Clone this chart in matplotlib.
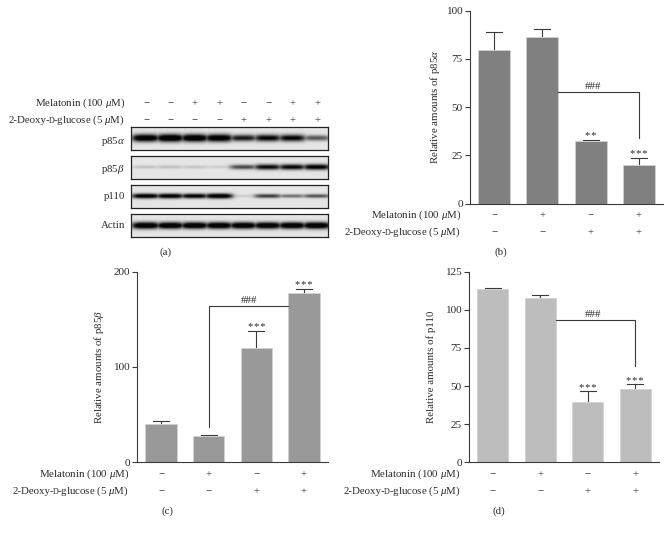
import numpy as np
import matplotlib
matplotlib.use("Agg")
import matplotlib.pyplot as plt

plt.rcParams['font.family'] = ['Liberation Serif', 'DejaVu Serif']
plt.rcParams['mathtext.fontset'] = 'custom'
plt.rcParams['mathtext.rm'] = 'Liberation Serif'
plt.rcParams['mathtext.it'] = 'Liberation Serif:italic'
plt.rcParams['mathtext.bf'] = 'Liberation Serif:bold'

W, H = 670, 533
FS = 7.85
TXT = '#2b2b2b'
LINE = '#3a3a3a'

# ---------- data ----------
mel_blot = ['−', '−', '+', '+', '−', '−', '+', '+']
dg_blot = ['−', '−', '−', '−', '+', '+', '+', '+']
blot_names = ['p85$\\alpha$', 'p85$\\beta$', 'p110', 'Actin']
p85a_bands = [0.95, 1.0, 0.98, 0.95, 0.72, 0.8, 0.8, 0.5]
p85b_bands = [0.13, 0.14, 0.12, 0.09, 0.55, 0.78, 0.8, 0.85]
p110_bands = [0.9, 0.9, 0.85, 0.95, 0.1, 0.6, 0.42, 0.52]
actin_bands = [1.0, 0.98, 0.98, 0.98, 0.98, 0.98, 0.98, 1.0]

melatonin = ['−', '+', '−', '+']
deoxy = ['−', '−', '+', '+']

b_vals = [79.4, 86.2, 32.3, 19.9]
b_tops = [89.1, 90.3, 33.0, 23.8]
b_sig = ['', '', '*\u200a*', '*\u200a*\u200a*']
b_ticks = [0, 25, 50, 75, 100]

c_vals = [39.9, 27.3, 119.6, 178.0]
c_tops = [43.4, 29.0, 137.8, 181.8]
c_sig = ['', '', '*\u200a*\u200a*', '*\u200a*\u200a*']
c_ticks = [0, 100, 200]

d_vals = [113.9, 107.7, 39.6, 48.3]
d_tops = [114.1, 109.5, 46.5, 51.1]
d_sig = ['', '', '*\u200a*\u200a*', '*\u200a*\u200a*']
d_ticks = [0, 25, 50, 75, 100, 125]

fig = plt.figure(figsize=(W / 100, H / 100), dpi=100, facecolor='white')


def fx(x):
    return x / W


def fy(y):
    return 1 - y / H


def px_axes(l, t, r, b, **kw):
    return fig.add_axes([fx(l), fy(b), (r - l) / W, (b - t) / H], **kw)


def deoxy_label(xr, y):
    """Right-aligned treatment label with a small-capital D."""
    r = fig.canvas.get_renderer()
    parts = [('-glucose (5 $\\mu$M)', FS, 0.0), ('D', FS * 0.74, -0.6), ('2-Deoxy-', FS, -0.6)]
    x = xr
    base = y + 3.0
    for s, size, gap in parts:
        t = fig.text(fx(x), fy(base), s, ha='right', va='baseline',
                     fontsize=size, color=TXT)
        x -= t.get_window_extent(r).width + gap - 0.8


def treatment_rows(xs_px, mel, dg, y1, y2, xr):
    fig.text(fx(xr), fy(y1 + 3.0), 'Melatonin (100 $\\mu$M)', ha='right',
             va='baseline', fontsize=FS, color=TXT)
    deoxy_label(xr, y2)
    for x, m, d in zip(xs_px, mel, dg):
        fig.text(fx(x), fy(y1), m, ha='center', va='center_baseline', fontsize=FS, color=TXT)
        fig.text(fx(x), fy(y2), d, ha='center', va='center_baseline', fontsize=FS, color=TXT)


# ---------- panel (a) ----------
lane_x = [146, 170.3, 194.7, 219.3, 243.7, 268.3, 292.7, 317.3]
treatment_rows(lane_x, mel_blot, dg_blot, 102.7, 120, 125)

rows = [(127, 150.3, p85a_bands, 0.30), (155.7, 179.3, p85b_bands, 0.24),
        (184.7, 208, p110_bands, 0.20), (213.7, 236.7, actin_bands, 0.27)]
label_y = [139, 167.3, 196, 224]
for (t, b, bands, hw), name, ly in zip(rows, blot_names, label_y):
    ax = px_axes(131.3, t, 328.3, b)
    gx = np.linspace(-0.6, 7.46, 400)
    gy = np.linspace(-1, 1, 70)
    X, Y = np.meshgrid(gx, gy)
    dark = np.zeros_like(X)
    for i, v in enumerate(bands):
        h = hw * (0.5 + 0.6 * v)
        dark = np.maximum(dark, v * np.exp(-((X - i) / 0.58) ** 4) * np.exp(-(Y / h) ** 2))
    img = 0.90 - 0.88 * np.clip(dark * 1.3, 0, 1)
    ax.imshow(img, extent=(-0.6, 7.46, -1, 1), aspect='auto', cmap='gray',
              vmin=0, vmax=1, interpolation='bilinear')
    ax.set_xticks([])
    ax.set_yticks([])
    for s in ax.spines.values():
        s.set_linewidth(0.9)
        s.set_color('#222222')
    fig.text(fx(125), fy(ly), name, ha='right', va='center_baseline', fontsize=FS, color=TXT)
fig.text(fx(166), fy(252), '(a)', ha='center', va='center', fontsize=FS, color=TXT)


# ---------- bar panels ----------
def bar_panel(l, t, r, b, vals, tops, sig, ticks, ymax, color, ylabel, ylx,
              bracket, hash_x, caption, cap_x, cap_y, y1, y2, xr):
    ax = px_axes(l, t, r, b)
    ax.patch.set_alpha(0)
    xs = np.arange(len(vals))
    ax.bar(xs, vals, width=0.66, color=color, edgecolor='#d2d2d2', linewidth=0.6, zorder=2)
    for x, v, top, s in zip(xs, vals, tops, sig):
        ax.plot([x, x], [v, top], color=LINE, lw=0.8, zorder=1, solid_capstyle='butt')
        ax.plot([x - 0.165, x + 0.165], [top, top], color=LINE, lw=0.8, zorder=1)
        if s:
            ax.annotate(s, (x, top), xytext=(0, -1.0), textcoords='offset points',
                        ha='center', va='bottom', fontsize=7.6, color=TXT,
                        annotation_clip=False)
    (bx, by), (cx, cy), (ex, ey) = bracket
    ax.plot([bx, cx, ex], [by, cy, ey], color=LINE, lw=0.8, zorder=3)
    ax.annotate('###', (hash_x, cy), xytext=(0, 0.8), textcoords='offset points',
                ha='center', va='bottom', fontsize=7.8, color=TXT)
    ax.set_xlim(-0.5, 3.5)
    ax.set_ylim(0, ymax)
    ax.set_xticks([])
    ax.set_yticks(ticks)
    ax.tick_params(axis='y', length=3.6, width=0.8, color=LINE, labelsize=FS + 0.3,
                   labelcolor=TXT, pad=1.6)
    for s in ('top', 'right'):
        ax.spines[s].set_visible(False)
    for s in ('left', 'bottom'):
        ax.spines[s].set_linewidth(0.8)
        ax.spines[s].set_color(LINE)
    fig.text(fx(ylx), fy((t + b) / 2 + 0.0), ylabel, rotation=90, ha='center',
             va='center', fontsize=FS, color=TXT)
    xp = [l + (i + 0.5) * (r - l) / 4 for i in range(4)]
    treatment_rows(xp, melatonin, deoxy, y1, y2, xr)
    fig.text(fx(cap_x), fy(cap_y), caption, ha='center', va='center', fontsize=FS, color=TXT)


bar_panel(470, 10.7, 663, 203.7, b_vals, b_tops, b_sig, b_ticks, 100, '#808080',
          'Relative amounts of p85$\\alpha$', 435, ((1.33, 58), (3, 58), (3, 34.2)), 2.06,
          '(b)', 501, 252, 214.7, 231.7, 461)
bar_panel(137.3, 271.7, 327.7, 462.3, c_vals, c_tops, c_sig, c_ticks, 200, '#999999',
          'Relative amounts of p85$\\beta$', 98.7, ((1, 37.4), (1, 164), (2.67, 164)), 1.85,
          '(c)', 167, 511, 473.3, 490.7, 129)
bar_panel(469, 271.7, 659, 462.3, d_vals, d_tops, d_sig, d_ticks, 125, '#bdbdbd',
          'Relative amounts of p110', 430.7, ((1.33, 93), (3, 93), (3, 63.4)), 2.12,
          '(d)', 499, 511, 473.3, 490.7, 460.7)

fig.savefig('out.png', dpi=100, facecolor='white')
